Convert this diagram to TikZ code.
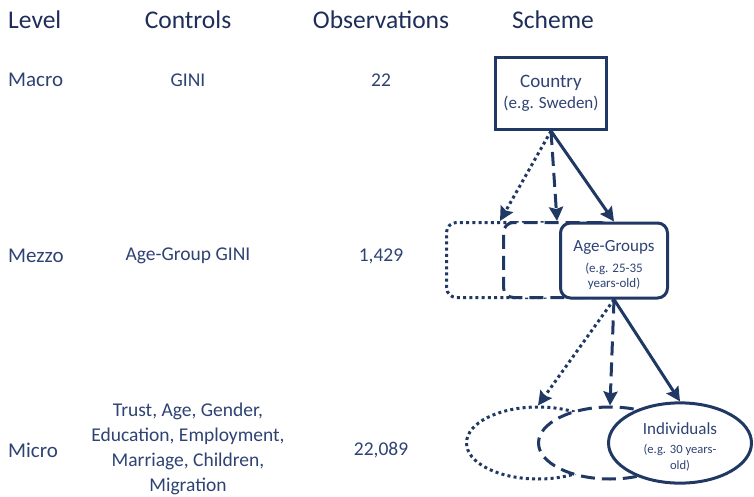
\documentclass[tikz,border=0pt]{standalone}
\usepackage{fontspec}
\setmainfont{Carlito}
\usetikzlibrary{arrows.meta,shapes.geometric}
\definecolor{hdr}{HTML}{1F2D5A}
\definecolor{txt}{HTML}{2E4374}
\definecolor{ln}{HTML}{203864}
\newcommand{\smallA}{\fontsize{13}{15}\selectfont}
\newcommand{\smallB}{\fontsize{12.6}{16}\selectfont}
\tikzset{
  hd/.style={text=hdr,font=\fontsize{25.5}{30}\selectfont,inner sep=0pt},
  lvl/.style={text=txt,font=\fontsize{21}{25}\selectfont,inner sep=0pt,anchor=west},
  cell/.style={text=txt,font=\fontsize{19.5}{25}\selectfont,inner sep=0pt,align=center},
  boxline/.style={draw=ln,line width=3pt,fill=white},
  dotline/.style={line width=3pt,dash pattern=on 3pt off 3.2pt},
  dashline/.style={line width=3pt,dash pattern=on 14pt off 7pt},
  arr/.style={draw=ln,line width=3pt,-{Stealth[length=14pt,width=14pt,inset=2pt]}},
}
\begin{document}
\begin{tikzpicture}[x=1pt,y=-1pt]
\useasboundingbox[fill=white] (0,0) rectangle (754,497);
% headers
\node[hd,anchor=west] (hlevel) at (8,20) {Level};
\node[hd] (hctrl) at (188,20) {Controls};
\node[hd] (hobs) at (381,20) {Observations};
\node[hd] (hsch) at (553,20) {Scheme};
% rows
\node[lvl] (lmacro) at (8,80) {Macro};
\node[lvl] (lmezzo) at (8,256) {Mezzo};
\node[lvl] (lmicro) at (8,450) {Micro};
\node[cell] (cmacro) at (188,80) {GINI};
\node[cell] (cmezzo) at (188,256) {Age-Group GINI};
\node[cell] (cmicro) at (188,449) {Trust, Age, Gender,\\Education, Employment,\\Marriage, Children,\\Migration};
\node[cell] (omacro) at (381,80) {22};
\node[cell] (omezzo) at (381,256) {1,429};
\node[cell] (omicro) at (381,450) {22,089};
% scheme: country
\node[boxline,minimum width=111pt,minimum height=72pt,text=txt,align=center,inner sep=0pt,
  font=\fontsize{19}{20}\selectfont] (country) at (551,93.5)
  {Country\\[1pt]\fontsize{17}{19}\selectfont(e.g. Sweden)};
% age groups
\node[boxline,dotline,rounded corners=10pt,minimum width=107pt,minimum height=75pt] (agedot) at (500,260) {};
\node[boxline,dashline,rounded corners=10pt,minimum width=107pt,minimum height=75pt] (agedash) at (557,260) {};
\node[boxline,rounded corners=10pt,minimum width=107pt,minimum height=75pt,text=txt,align=center,inner sep=0pt,
  font=\fontsize{17}{15}\selectfont] (age) at (614,260.5)
  {\rule{0pt}{19.5pt}Age-Groups\\[6pt]\smallA(e.g. 25-35\\\smallA years-old)};
% individuals
\node[boxline,dotline,ellipse,minimum width=143pt,minimum height=72pt,inner sep=0pt] (inddot) at (538,443) {};
\node[boxline,dashline,ellipse,minimum width=143pt,minimum height=72pt,inner sep=0pt] (inddash) at (610,443) {};
\node[boxline,ellipse,minimum width=143pt,minimum height=72pt,inner sep=0pt,text=txt,align=center,
  font=\fontsize{17}{16}\selectfont] (ind) at (680,443)
  {\rule{0pt}{20pt}Individuals\\[3pt]\smallB(e.g. 30 years-\\\smallB old)};
% arrows
\draw[arr,dotline] (country.south) -- (agedot.north);
\draw[arr,dashline] (country.south) -- (agedash.north);
\draw[arr] (country.south) -- (age.north);
\draw[arr,dotline] (age.south) -- (inddot.north);
\draw[arr,dashline] (age.south) -- (inddash.north);
\draw[arr] (age.south) -- (ind.north);
\end{tikzpicture}
\end{document}
